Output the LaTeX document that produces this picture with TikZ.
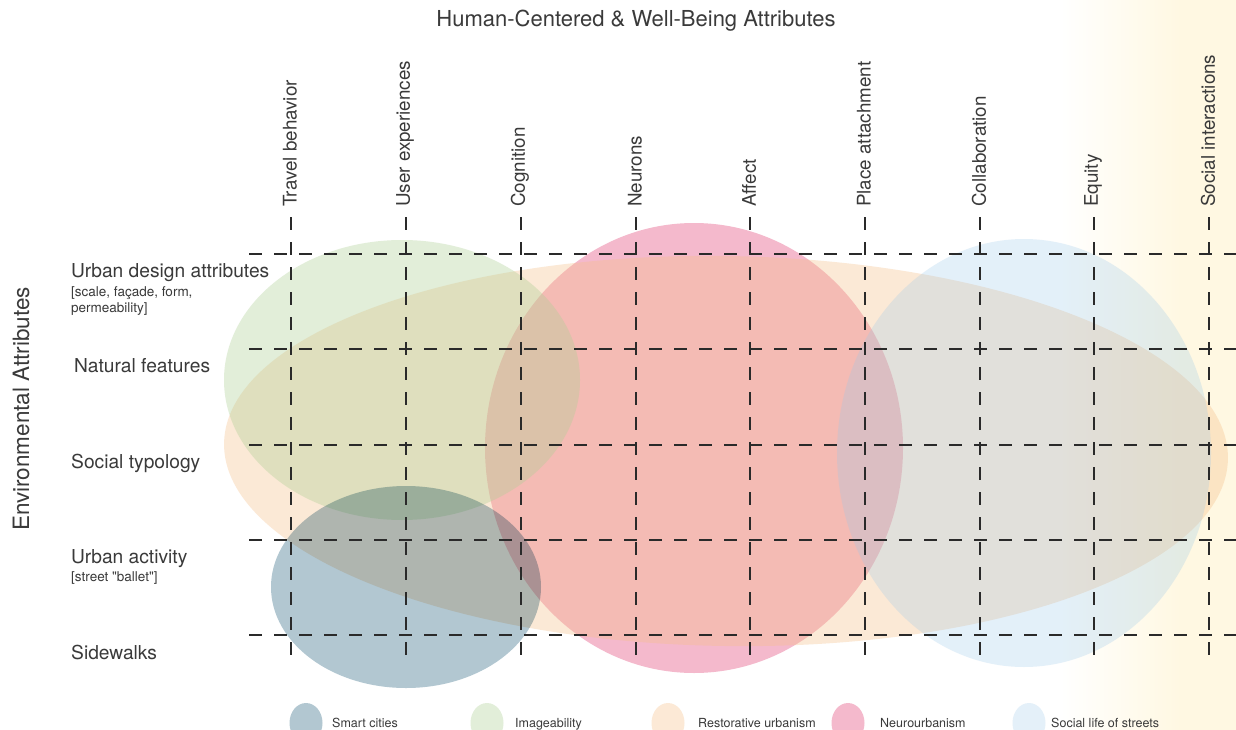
\documentclass[tikz,border=0pt]{standalone}
\usepackage{fontspec}
\setmainfont{TeX Gyre Heros}[Ligatures=TeXOff]
\definecolor{smartc}{HTML}{B2C7D1}
\definecolor{imagec}{HTML}{E2EED9}
\definecolor{restc}{HTML}{FCE9D6}
\definecolor{neuroc}{HTML}{F4B9CC}
\definecolor{socc}{HTML}{E4F0F9}
\definecolor{restpure}{RGB}{246,192,138}
\definecolor{imagepure}{RGB}{175,208,150}
\definecolor{socpure}{RGB}{155,200,233}
\definecolor{txt}{HTML}{3A3A3A}
\definecolor{gridc}{HTML}{2A2A2A}
\definecolor{bgy}{HTML}{FFF8E2}
\begin{document}
\begin{tikzpicture}[x=1pt,y=-1pt,
  gridline/.style={draw=gridc, line width=1.1pt, dash pattern=on 13pt off 12pt},
  collabel/.style={rotate=90, anchor=west, inner sep=0pt, text=txt, font=\fontsize{18.8}{22}\selectfont},
  rowlabel/.style={anchor=base west, inner sep=0pt, text=txt, font=\fontsize{19.2}{22}\selectfont},
  sublabel/.style={anchor=base west, inner sep=0pt, text=txt, font=\fontsize{13.5}{15}\selectfont},
  leglabel/.style={anchor=base west, inner sep=0pt, text=txt, font=\fontsize{12.5}{14}\selectfont},
  blob/.style={blend mode=multiply}]
\useasboundingbox (0,0) rectangle (1236,730);
\fill[white] (0,0) rectangle (1236,730);
% right-hand tint
\shade[left color=white, right color=bgy] (1060,0) rectangle (1180.5,730);
\fill[bgy] (1180,0) rectangle (1236,730);

% overlapping fields
\fill[neuroc] (694,448) ellipse [x radius=209, y radius=225];
\begin{scope}[shift={(726,451)}, rotate=-0.9]
  \fill[restpure, fill opacity=0.35] (0,0) ellipse [x radius=502, y radius=195];
\end{scope}
\fill[imagepure, fill opacity=0.36] (402,380) ellipse [x radius=178, y radius=140];
\fill[socpure, fill opacity=0.27] (1024,453) ellipse [x radius=187, y radius=214];
\fill[blob, smartc] (406,587) ellipse [x radius=135, y radius=101];

% title
\node[text=txt, font=\fontsize{22}{26}\selectfont, inner sep=0pt] (title) at (636,21) {Human-Centered \& Well-Being Attributes};

% columns
\foreach \x/\nm/\lab in {291/tb/Travel behavior, 406/ue/User experiences, 521/cg/Cognition, 636/nr/Neurons, 750/af/Affect, 865/pa/Place attachment, 980/cl/Collaboration, 1094/eq/Equity, 1209/si/Social interactions}{
  \node[collabel] (c\nm) at (\x-1,207) {\lab};
  \coordinate (t\nm) at (\x,217);
  \coordinate (b\nm) at (\x,660);
  \draw[gridline] (t\nm) -- (b\nm);
}

% rows
\foreach \y/\nm in {254/r1, 349/r2, 445/r3, 540/r4, 635/r5}{
  \coordinate (l\nm) at (249,\y);
  \coordinate (e\nm) at (1236,\y);
  \draw[gridline] (l\nm) -- (e\nm);
}

% row labels
\node[rowlabel] (ud) at (71,277) {Urban design attributes};
\node[sublabel] (ud1) at (71,296) {[scale, façade, form,};
\node[sublabel] (ud2) at (71,312) {permeability]};
\node[rowlabel] (nf) at (74,372) {Natural features};
\node[rowlabel] (st) at (71,468) {Social typology};
\node[rowlabel] (ua) at (71,563) {Urban activity};
\node[sublabel] (ua1) at (71,581) {[street "ballet"]};
\node[rowlabel] (sw) at (71,659) {Sidewalks};

\node[rotate=90, text=txt, font=\fontsize{22.5}{26}\selectfont, inner sep=0pt] (env) at (21,409) {Environmental Attributes};

% legend
\foreach \x/\lx/\c/\nm/\lab in {306/332/smartc/ls/Smart cities, 487/515/imagec/li/Imageability, 668/698/restc/lr/Restorative urbanism, 848/880/neuroc/ln/Neurourbanism, 1029/1051/socc/lo/Social life of streets}{
  \fill[\c] (\x,723) ellipse [x radius=16.5, y radius=20];
  \node[leglabel] (\nm) at (\lx,727) {\lab};
}
\end{tikzpicture}
\end{document}
